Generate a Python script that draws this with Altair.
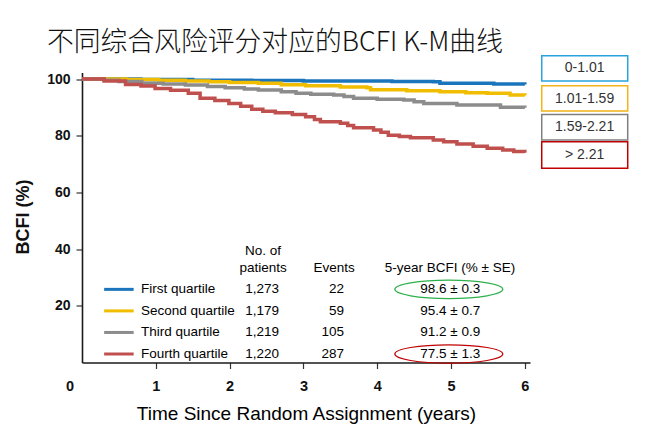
import altair as alt
import pandas as pd

# ---------------- data ----------------
quartiles = ["First quartile", "Second quartile", "Third quartile", "Fourth quartile"]
patients = ["1,273", "1,179", "1,219", "1,220"]
events = ["22", "59", "105", "287"]
bcfi5 = ["98.6 ± 0.3", "95.4 ± 0.7", "91.2 ± 0.9", "77.5 ± 1.3"]
score_ranges = ["0-1.01", "1.01-1.59", "1.59-2.21", "> 2.21"]
headers = ["No. of", "patients", "Events", "5-year BCFI (% ± SE)"]

# Kaplan-Meier step curves (years, BCFI %)
q1_t = [0, 0.8, 1.5, 2.3, 3.0, 4.2, 4.76, 4.85, 5.58, 6.0]
q1_v = [100, 99.8, 99.6, 99.5, 99.3, 99.1, 99.0, 98.5, 98.2, 98.1]
q2_t = [0, 0.6, 1.04, 1.4, 1.72, 2.0, 2.39, 2.7, 3.03, 3.5, 3.86, 3.91, 4.4, 4.85, 5.2, 5.49, 5.8, 6.0]
q2_v = [100, 99.8, 99.6, 99.3, 99.0, 98.8, 98.5, 98.0, 97.6, 97.2, 96.9, 96.2, 95.9, 95.5, 95.2, 95.0, 94.4, 94.2]
q3_t = [0, 0.3, 0.5, 0.81, 1.1, 1.4, 1.7, 1.94, 2.2, 2.39, 2.7, 2.9, 3.1, 3.41, 3.55, 3.68, 4.0, 4.36, 4.5, 4.63, 5.08, 5.67, 6.0]
q3_v = [100, 99.6, 99.1, 98.5, 98.2, 97.9, 97.4, 96.9, 96.5, 96.1, 95.5, 95.0, 94.6, 94.4, 93.8, 93.2, 92.9, 92.6, 92.0, 91.4, 90.8, 90.0, 89.9]
q4_t = [0, 0.3, 0.59, 0.8, 0.99, 1.2, 1.44, 1.6, 1.8, 1.99, 2.15, 2.3, 2.45, 2.62, 2.85, 3.03, 3.15, 3.23, 3.5, 3.6, 3.68,
        3.95, 4.05, 4.15, 4.3, 4.45, 4.76, 4.9, 5.08, 5.3, 5.49, 5.7, 5.85, 6.0]
q4_v = [100, 99.3, 98.1, 97.5, 96.7, 96.0, 95.0, 93.2, 92.4, 91.4, 90.4, 89.3, 88.6, 88.1, 87.5, 86.7, 85.7, 84.9, 84.4, 83.6, 82.8,
        82.0, 81.2, 80.2, 79.7, 79.3, 78.5, 77.9, 77.1, 76.3, 75.6, 75.0, 74.4, 74.0]

# ---------------- styling ----------------
line_colors = ["#1B75BC", "#F0BD00", "#8C8C8C", "#C0504D"]
box_colors = ["#29A3DD", "#F2B416", "#7F7F7F", "#C00000"]
ellipse_colors = {0: "#2DB04B", 3: "#C00000"}
TXT = "#111111"
FONT = "Liberation Sans"

X_DOMAIN = [0, 6.07]
Y_DOMAIN = [0, 102.3]
W, H = 448, 290

# annotation layout (data coordinates)
row_v = [25.8, 18.2, 10.6, 3.0]
head_v_top, head_v = 39.3, 33.3

curves = []
for name, col, ts, vs in zip(quartiles, line_colors, [q1_t, q2_t, q3_t, q4_t], [q1_v, q2_v, q3_v, q4_v]):
    for t, v in zip(ts, vs):
        curves.append({"q": name, "col": col, "t": t, "v": v})
curves = pd.DataFrame(curves)

xs = alt.Scale(domain=X_DOMAIN, nice=False, zero=False)
ys = alt.Scale(domain=Y_DOMAIN, nice=False, zero=False)

x_axis = alt.Axis(
    values=[0, 1, 2, 3, 4, 5, 6], title="Time Since Random Assignment (years)",
    labelFont=FONT, labelFontWeight="bold", labelFontSize=14.5, labelColor=TXT,
    labelPadding=11, tickSize=6,
    labelOffset={"condition": {"test": "datum.value === 0", "value": -16.5}, "value": 0},
    tickOpacity={"condition": {"test": "datum.value === 0", "value": 0}, "value": 1},
    titleFont=FONT, titleFontSize=19, titleFontWeight="normal", titleColor="#000000",
    titleBaseline="alphabetic", titleY=56.5,
)
y_axis = alt.Axis(
    values=[20, 40, 60, 80, 100], title="BCFI (%)",
    labelFont=FONT, labelFontWeight="bold", labelFontSize=14, labelColor=TXT,
    labelPadding=6, tickSize=6,
    titleFont=FONT, titleFontSize=18, titleFontWeight="bold", titleColor=TXT,
    titleX=-50, titleY=144, titleBaseline="bottom", titleAngle=-90,
)

X = alt.X("t:Q", scale=xs, axis=x_axis)
Y = alt.Y("v:Q", scale=ys, axis=y_axis)

lines = alt.Chart(curves).mark_line(interpolate="step-after", strokeWidth=3.5).encode(
    x=X, y=Y, color=alt.Color("col:N", scale=None), detail="q:N",
    order=alt.Order("t:Q"),
)

# table headers
hdr = pd.DataFrame({
    "t": [2.453, 2.453, 3.415, 4.986],
    "v": [head_v_top, head_v, head_v, head_v],
    "txt": headers,
})
hdr_layer = alt.Chart(hdr).mark_text(font=FONT, fontSize=13.5, color="#000000", align="center", baseline="middle").encode(
    x=X, y=Y, text="txt:N")

rows = pd.DataFrame({
    "q": quartiles, "col": line_colors, "v": row_v,
    "pat": patients, "ev": events, "b5": bcfi5,
})
rows["t_l1"] = 0.30
rows["t_l2"] = 0.70
rows["t_lab"] = 0.80
rows["t_pat"] = 2.44
rows["t_ev"] = 3.55
rows["t_b5"] = 4.99

TBL = dict(font=FONT, fontSize=13.5, color="#000000", baseline="middle")
leg_lines = alt.Chart(rows).mark_rule(strokeWidth=3).encode(
    x=alt.X("t_l1:Q", scale=xs, axis=x_axis), x2="t_l2:Q", y=alt.Y("v:Q", scale=ys, axis=y_axis),
    color=alt.Color("col:N", scale=None))
lab = alt.Chart(rows).mark_text(align="left", **TBL).encode(
    x=alt.X("t_lab:Q", scale=xs, axis=x_axis), y=Y, text="q:N")
pat = alt.Chart(rows).mark_text(align="center", **TBL).encode(
    x=alt.X("t_pat:Q", scale=xs, axis=x_axis), y=Y, text="pat:N")
ev = alt.Chart(rows).mark_text(align="right", **TBL).encode(
    x=alt.X("t_ev:Q", scale=xs, axis=x_axis), y=Y, text="ev:N")
b5 = alt.Chart(rows).mark_text(align="center", **TBL).encode(
    x=alt.X("t_b5:Q", scale=xs, axis=x_axis), y=Y, text="b5:N")

ell = pd.DataFrame({
    "t": [4.97 for _ in ellipse_colors],
    "v": [row_v[i] for i in ellipse_colors],
    "col": list(ellipse_colors.values()),
})
ELLIPSE = "M-1,0 A1,0.17 0 1,1 1,0 A1,0.17 0 1,1 -1,0 Z"
ell_layer = alt.Chart(ell).mark_point(shape=ELLIPSE, size=108 * 108, filled=False, strokeWidth=1.2, opacity=1).encode(
    x=X, y=Y, stroke=alt.Stroke("col:N", scale=None))

# score-range boxes at right (data coordinates beyond the plotted domain)
boxes = pd.DataFrame({
    "lab": score_ranges, "col": box_colors,
    "v1": [108.2, 97.6, 87.5, 77.9], "v2": [99.3, 88.7, 78.5, 68.5],
    "vc": [103.9, 93.1, 83.1, 73.2],
})
boxes["t1"] = 6.229
boxes["t2"] = 7.394
boxes["tc"] = 6.81
box_rect = alt.Chart(boxes).mark_rect(fill="white", strokeWidth=1.5).encode(
    x=alt.X("t1:Q", scale=xs, axis=x_axis), x2="t2:Q",
    y=alt.Y("v1:Q", scale=ys, axis=y_axis), y2="v2:Q",
    stroke=alt.Stroke("col:N", scale=None))
box_txt = alt.Chart(boxes).mark_text(font=FONT, fontSize=14, color="#333333", align="center", baseline="middle").encode(
    x=alt.X("tc:Q", scale=xs, axis=x_axis), y=alt.Y("vc:Q", scale=ys, axis=y_axis), text="lab:N")

chart = alt.layer(lines, hdr_layer, leg_lines, lab, pat, ev, b5, ell_layer, box_rect, box_txt).properties(
    width=W, height=H,
    title=alt.TitleParams(
        text="不同综合风险评分对应的BCFI K-M曲线", font="Noto Sans CJK SC", fontSize=26.8,
        fontWeight=300, color="#111111", anchor="start", frame="group",
        dx=-35, dy=44, baseline="alphabetic", offset=21.5,
    ),
    autosize=alt.AutoSizeParams(type="none"),
    padding={"left": 74, "top": 64.5, "right": 114, "bottom": 65.5},
).configure_view(stroke=None).configure_axis(
    grid=False, domainColor="#1a1a1a", domainWidth=1.6, tickColor="#333333", tickWidth=1.2,
)

chart.save("out.html", embed_options={"renderer": "svg", "actions": False})
